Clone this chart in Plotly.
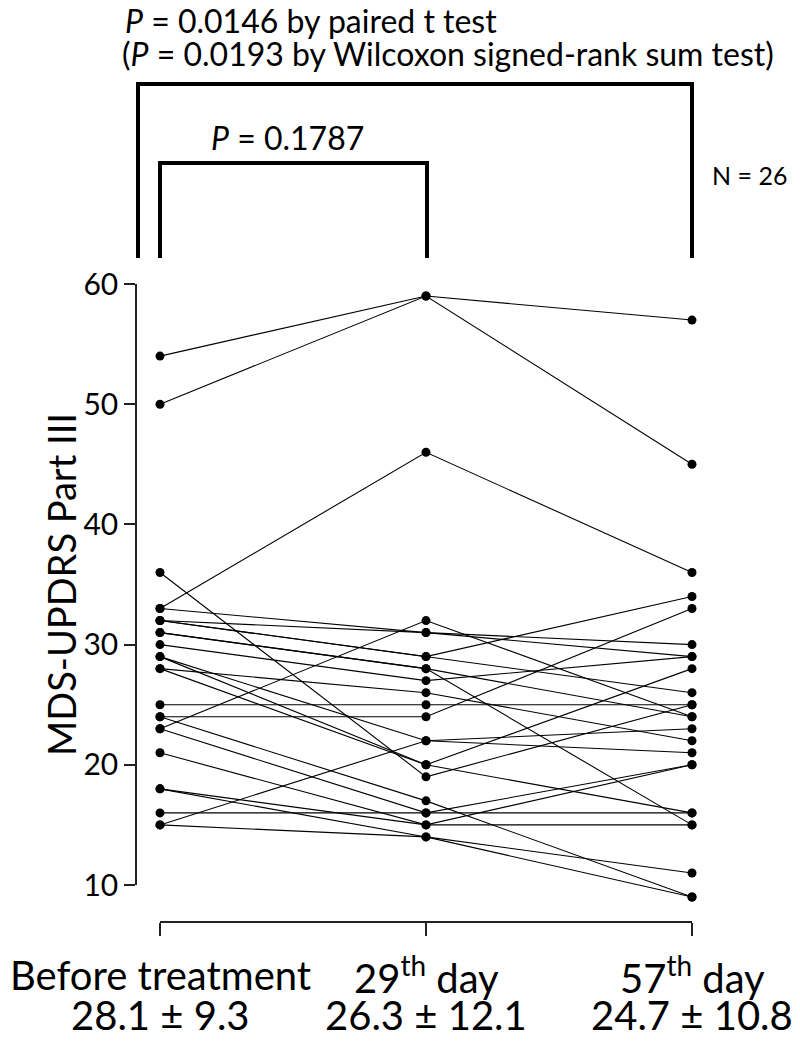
import plotly.graph_objects as go

# ---- data ----
categories = ["Before treatment", "29<sup>th</sup> day", "57<sup>th</sup> day"]
summaries = ["28.1 ± 9.3", "26.3 ± 12.1", "24.7 ± 10.8"]
before = [54, 50, 33, 36, 23, 15, 28, 25, 24, 16, 24, 23, 21, 18, 18, 15,
          33, 32, 32, 32, 31, 31, 30, 29, 29, 28]
day29 = [59, 59, 46, 19, 32, 22, 20, 25, 24, 16, 17, 16, 15, 15, 14, 14,
         31, 31, 29, 29, 28, 28, 27, 22, 20, 26]
day57 = [57, 45, 36, 25, 24, 23, 16, 25, 33, 16, 9, 20, 20, 15, 11, 9,
         30, 29, 34, 26, 15, 24, 29, 21, 28, 22]
y_ticks = [10, 20, 30, 40, 50, 60]
p_overall_t = "0.0146"
p_overall_w = "0.0193"
p_day29 = "0.1787"
n_subjects = 26

W, H = 800, 1045
OFF = 8          # page body margin in the browser
FONT = "Lato"


def px(x):
    """screen x pixel -> paper fraction"""
    return (x - OFF) / W


def py(y):
    """screen y pixel -> paper fraction"""
    return 1 - (y - OFF) / H


# screen geometry of the plotting frame
X0, XSTEP = 160, 266          # x pixel of first category, spacing
Y10, YUNIT = 885, 601 / 50    # pixel of value 10, pixels per unit

fig = go.Figure()

for b, d1, d2 in zip(before, day29, day57):
    fig.add_trace(go.Scatter(
        x=[0, 1, 2], y=[b, d1, d2], mode="lines+markers",
        line=dict(color="black", width=1.1),
        marker=dict(color="black", size=9),
        showlegend=False, hoverinfo="skip"))

# dummy traces to materialise decorative axes
fig.add_trace(go.Scatter(x=[None], y=[None], xaxis="x2", yaxis="y2",
                         showlegend=False, hoverinfo="skip"))
fig.add_trace(go.Scatter(x=[None], y=[None], xaxis="x3", yaxis="y3",
                         showlegend=False, hoverinfo="skip"))

# data axes span the whole paper
x_left = (OFF - X0) / XSTEP
x_right = (OFF + W - X0) / XSTEP
y_bottom = 10 - (OFF + H - Y10) / YUNIT
y_top = 10 + (Y10 - OFF) / YUNIT

fig.update_layout(
    width=W, height=H, autosize=False,
    margin=dict(l=0, r=0, t=0, b=0, pad=0, autoexpand=False),
    paper_bgcolor="white", plot_bgcolor="rgba(0,0,0,0)",
    font=dict(family=FONT, color="black"),
    xaxis=dict(domain=[0, 1], range=[x_left, x_right], visible=False,
               fixedrange=True),
    yaxis=dict(domain=[0, 1], range=[y_bottom, y_top], visible=False,
               fixedrange=True),
    xaxis2=dict(domain=[px(137), 0.95], anchor="y2", visible=False,
                range=[0, 1]),
    yaxis2=dict(domain=[py(Y10), py(Y10 - 50 * YUNIT)], anchor="x2",
                range=[10, 60], tickvals=y_ticks, showline=True,
                linecolor="#222", linewidth=1.5, ticks="outside",
                ticklen=11, tickwidth=1.5, tickcolor="#222",
                showgrid=False, zeroline=False,
                tickfont=dict(family=FONT, size=30, color="black")),
    xaxis3=dict(domain=[px(X0), px(X0 + 2 * XSTEP)], anchor="y3",
                range=[0, 2], tickvals=[0, 1, 2], showticklabels=False,
                showline=True, linecolor="#222", linewidth=1.5,
                ticks="outside", ticklen=13, tickwidth=1.5, tickcolor="#222",
                showgrid=False, zeroline=False),
    yaxis3=dict(domain=[py(921), py(921) + 0.01], anchor="x3", visible=False,
                range=[0, 1]),
)

ann = []
for i, (c, s) in enumerate(zip(categories, summaries)):
    ann.append(dict(x=i, xref="x", y=py(975), yref="paper", text=c,
                    showarrow=False, xanchor="center", yanchor="middle",
                    font=dict(size=40, family=FONT)))
    ann.append(dict(x=i, xref="x", y=py(1015), yref="paper", text=s,
                    showarrow=False, xanchor="center", yanchor="middle",
                    font=dict(size=40, family=FONT)))

ann.append(dict(x=px(36), y=py(585), xref="paper", yref="paper",
                text="MDS-UPDRS Part III", textangle=-90, showarrow=False,
                font=dict(size=38, family=FONT)))
ann.append(dict(x=px(123), y=py(21), xref="paper", yref="paper",
                xanchor="left", yanchor="middle", showarrow=False,
                text=f"<i>P</i> = {p_overall_t} by paired t test",
                font=dict(size=32, family=FONT)))
ann.append(dict(x=px(120), y=py(54), xref="paper", yref="paper",
                xanchor="left", yanchor="middle", showarrow=False,
                text=f"(<i>P</i> = {p_overall_w} by Wilcoxon signed-rank sum test)",
                font=dict(size=32, family=FONT)))
ann.append(dict(x=px(287), y=py(137), xref="paper", yref="paper",
                xanchor="center", yanchor="middle", showarrow=False,
                text=f"<i>P</i> = {p_day29}",
                font=dict(size=32, family=FONT)))
ann.append(dict(x=px(789), y=py(175), xref="paper", yref="paper",
                xanchor="right", yanchor="middle", showarrow=False,
                text=f"N = {n_subjects}",
                font=dict(size=25, family=FONT)))
fig.update_layout(annotations=ann)


# significance brackets
def bracket(xl, xr_, ytop, ybot):
    return dict(type="path", xref="paper", yref="paper",
                path=f"M {px(xl)},{py(ybot)} L {px(xl)},{py(ytop)} "
                     f"L {px(xr_)},{py(ytop)} L {px(xr_)},{py(ybot)}",
                line=dict(color="black", width=4))


fig.update_layout(shapes=[
    bracket(138, 692, 84, 258),
    bracket(160, 427, 163, 258),
])

fig.write_html("out.html")
